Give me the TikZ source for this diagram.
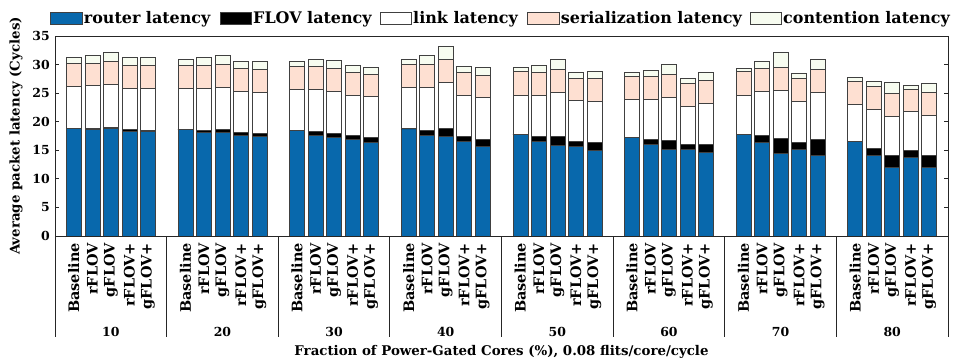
\documentclass[tikz,border=0pt]{standalone}
\usepackage{fontspec}
\setmainfont{DejaVu Serif}
\definecolor{routerc}{HTML}{0868AC}
\definecolor{serc}{HTML}{FEE0D2}
\definecolor{contc}{HTML}{F7FCF0}
\begin{document}
\begin{tikzpicture}[x=1bp,y=1bp,
  seg/.style={draw=black!75, line width=0.6bp},
  frame/.style={draw=black!85, line width=0.9bp},
  ticklab/.style={font=\fontsize{12.5}{14}\selectfont\bfseries, inner sep=0pt},
  barlab/.style={font=\fontsize{14.5}{16}\selectfont\bfseries, inner sep=0pt, rotate=90, anchor=east},
  leglab/.style={font=\fontsize{16}{18}\selectfont\bfseries, inner sep=0pt, anchor=base west},
  axlab/.style={font=\fontsize{13.4}{15}\selectfont\bfseries, inner sep=0pt}]
\useasboundingbox (0,0) rectangle (956,360);
% bars
\foreach \vG/\vB/\vR/\vF/\vL/\vS/\vC in {
0/0/18.85/18.85/26.2/30.2/31.3,
0/1/18.7/18.85/26.3/30.3/31.6,
0/2/18.9/19.1/26.55/30.6/32.1,
0/3/18.4/18.7/25.9/29.9/31.3,
0/4/18.3/18.5/25.8/29.9/31.3,
1/0/18.7/18.7/25.8/29.9/30.9,
1/1/18.1/18.55/25.8/29.9/31.2,
1/2/18.1/18.6/26.0/30.05/31.55,
1/3/17.6/18.1/25.3/29.3/30.6,
1/4/17.45/18.0/25.2/29.2/30.5,
2/0/18.5/18.5/25.7/29.7/30.5,
2/1/17.6/18.25/25.7/29.65/30.9,
2/2/17.2/18.0/25.4/29.4/30.8,
2/3/16.9/17.55/24.7/28.7/29.9,
2/4/16.4/17.2/24.4/28.35/29.6,
3/0/18.8/18.8/26.0/30.05/30.9,
3/1/17.7/18.55/26.05/30.1/31.6,
3/2/17.5/18.9/26.95/30.9/33.2,
3/3/16.6/17.4/24.6/28.65/29.7,
3/4/15.75/16.9/24.2/28.2/29.45,
4/0/17.8/17.8/24.7/28.75/29.45,
4/1/16.5/17.45/24.7/28.7/29.9,
4/2/15.9/17.45/25.2/29.2/31.0,
4/3/15.7/16.6/23.7/27.65/28.6,
4/4/15.0/16.4/23.65/27.6/28.9,
5/0/17.3/17.3/24.0/28.0/28.65,
5/1/16.0/16.9/23.9/27.9/28.95,
5/2/15.2/16.8/24.3/28.3/30.1,
5/3/15.1/16.0/22.75/26.8/27.6,
5/4/14.6/16.1/23.3/27.3/28.65,
6/0/17.8/17.8/24.7/28.75/29.4,
6/1/16.4/17.7/25.4/29.35/30.6,
6/2/14.4/17.15/25.5/29.45/32.15,
6/3/15.1/16.4/23.6/27.6/28.5,
6/4/14.2/16.9/25.15/29.1/30.9,
7/0/16.55/16.55/23.1/27.05/27.7,
7/1/14.2/15.4/22.2/26.2/27.05,
7/2/12.0/14.05/21.0/24.95/26.9,
7/3/13.7/15.0/21.75/25.7/26.4,
7/4/12.1/14.2/21.2/25.2/26.7}{
  \pgfmathsetmacro\xl{66.3+\vG*111.625+\vB*18.5}
  \pgfmathsetmacro\xr{\xl+15}
  \draw[seg, fill=routerc] (\xl,124) rectangle (\xr,{124+\vR*5.714});
  \draw[seg, fill=black] (\xl,{124+\vR*5.714}) rectangle (\xr,{124+\vF*5.714});
  \draw[seg, fill=white] (\xl,{124+\vF*5.714}) rectangle (\xr,{124+\vL*5.714});
  \draw[seg, fill=serc] (\xl,{124+\vL*5.714}) rectangle (\xr,{124+\vS*5.714});
  \draw[seg, fill=contc] (\xl,{124+\vS*5.714}) rectangle (\xr,{124+\vC*5.714});
}
% frame
\draw[frame] (55,124) rectangle (948,324);
% y ticks
\foreach \v in {0,5,...,35}{
  \draw[frame] (55,{124+\v*5.714}) -- ++(4,0);
  \draw[frame] (948,{124+\v*5.714}) -- ++(-4,0);
  \node[ticklab, anchor=east] (yt\v) at (50,{124+\v*5.714}) {\v};
}
% group separators
\foreach \i in {0,...,8}{
  \draw[frame] ({55+\i*111.625},124) -- ({55+\i*111.625},23);
}
% group and bar labels
\foreach \vG/\lab in {0/10,1/20,2/30,3/40,4/50,5/60,6/70,7/80}{
  \node[ticklab, anchor=base] (g\vG) at ({55+\vG*111.625+55.81},24) {\lab};
  \foreach \vB/\txt in {0/Baseline,1/rFLOV,2/gFLOV,3/rFLOV+,4/gFLOV+}{
    \node[barlab] (b\vG\vB) at ({73.8+\vG*111.625+\vB*18.5},117) {\txt};
  }
}
% axis labels
\node[axlab, anchor=base] (xlab) at (501.5,4.7) {Fraction of Power-Gated Cores (\%), 0.08 flits/core/cycle};
\node[axlab, rotate=90] (ylab) at (16,224) {Average packet latency (Cycles)};
% legend
\foreach \xs/\col/\txt/\nm in {50.7/routerc/router latency/l1, 220/black/FLOV latency/l2, 380/white/link latency/l3, 527.7/serc/serialization latency/l4, 750/contc/contention latency/l5}{
  \draw[seg, fill=\col] (\xs,336) rectangle ({\xs+31.6},347.3);
  \node[leglab] (\nm) at ({\xs+33},336.5) {\txt};
}
\end{tikzpicture}
\end{document}
